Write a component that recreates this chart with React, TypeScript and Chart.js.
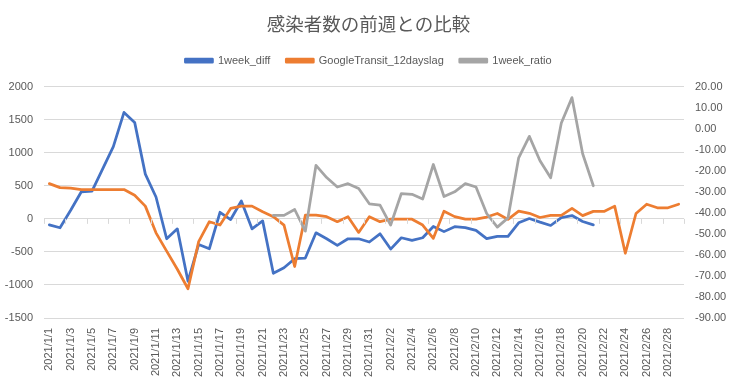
import React, { useEffect, useRef } from 'react';
import { Chart, registerables } from 'chart.js';

Chart.register(...registerables);

const categories = [
  '2021/1/1', '2021/1/2', '2021/1/3', '2021/1/4', '2021/1/5', '2021/1/6', '2021/1/7', '2021/1/8', '2021/1/9', '2021/1/10',
  '2021/1/11', '2021/1/12', '2021/1/13', '2021/1/14', '2021/1/15', '2021/1/16', '2021/1/17', '2021/1/18', '2021/1/19', '2021/1/20',
  '2021/1/21', '2021/1/22', '2021/1/23', '2021/1/24', '2021/1/25', '2021/1/26', '2021/1/27', '2021/1/28', '2021/1/29', '2021/1/30',
  '2021/1/31', '2021/2/1', '2021/2/2', '2021/2/3', '2021/2/4', '2021/2/5', '2021/2/6', '2021/2/7', '2021/2/8', '2021/2/9',
  '2021/2/10', '2021/2/11', '2021/2/12', '2021/2/13', '2021/2/14', '2021/2/15', '2021/2/16', '2021/2/17', '2021/2/18', '2021/2/19',
  '2021/2/20', '2021/2/21', '2021/2/22', '2021/2/23', '2021/2/24', '2021/2/25', '2021/2/26', '2021/2/27', '2021/2/28', '2021/3/1',
];

const weekDiff: (number | null)[] = [
  -90, -135, 130, 410, 420, 757, 1093, 1611, 1460, 677,
  331, -301, -151, -944, -387, -452, 100, -10, 271, -151,
  -30, -824, -740, -603, -593, -211, -301, -400, -301, -301,
  -350, -226, -457, -286, -325, -286, -115, -193, -118, -133,
  -173, -299, -266, -266, -60, 5, -50, -100, 20, 50,
  -40, -90, null, null, null, null, null, null, null, null,
];

const googleTransit: (number | null)[] = [
  -26.1, -28.0, -28.2, -28.9, -28.9, -28.9, -28.9, -28.9, -31.6, -36.8,
  -49.5, -58.2, -66.8, -76.1, -53.7, -44.2, -45.8, -37.9, -36.8, -36.8,
  -39.5, -41.8, -45.8, -65.5, -41.1, -41.1, -41.8, -44.2, -41.8, -49.3,
  -41.8, -44.2, -43.0, -43.0, -43.0, -45.8, -52.1, -39.2, -41.8, -43.0,
  -43.0, -42.0, -40.3, -43.1, -39.2, -40.2, -42.2, -41.2, -41.2, -37.9,
  -41.3, -39.3, -39.3, -36.8, -59.2, -40.3, -35.9, -37.6, -37.6, -35.9,
];

const weekRatio: (number | null)[] = [
  null, null, null, null, null, null, null, null, null, null,
  null, null, null, null, null, null, null, null, null, null,
  null, -41.2, -41.2, -38.4, -48.7, -17.4, -23.2, -27.7, -26.1, -28.4,
  -35.7, -36.3, -45.8, -30.8, -31.2, -33.4, -17.0, -32.2, -30.0, -26.1,
  -27.7, -40.3, -46.8, -42.4, -13.8, -3.6, -15.2, -23.3, 2.7, 14.8,
  -11.9, -27.1, null, null, null, null, null, null, null, null,
];

const leftMin = -1500;
const leftMax = 2000;
const leftStep = 500;
const rightMin = -90;
const rightMax = 20;
const rightStep = 10;

const TEXT = '#595959';
const GRID = '#d9d9d9';
const FONT = "'Liberation Sans', Arial, sans-serif";

const zeroTicksPlugin = {
  id: 'zeroTicks',
  afterDatasetsDraw(chart: any) {
    const { ctx, chartArea, scales } = chart;
    const y0 = scales.y.getPixelForValue(0);
    const n = categories.length;
    const w = chartArea.width / n;
    ctx.save();
    ctx.strokeStyle = GRID;
    ctx.lineWidth = 1;
    ctx.beginPath();
    for (let i = 0; i <= n; i += 2) {
      const x = Math.round(chartArea.left + i * w) + 0.5;
      ctx.moveTo(x, y0);
      ctx.lineTo(x, y0 + 5);
    }
    ctx.stroke();
    ctx.restore();
  },
};

export default function App() {
  const ref = useRef<HTMLCanvasElement | null>(null);

  useEffect(() => {
    const canvas = ref.current;
    if (!canvas) return;
    const line = (label: string, data: (number | null)[], color: string, axis: string, order: number) => ({
      label,
      data,
      borderColor: color,
      backgroundColor: color,
      borderWidth: 2.75,
      pointRadius: 0,
      pointHoverRadius: 0,
      tension: 0,
      spanGaps: false,
      yAxisID: axis,
      borderJoinStyle: 'round' as const,
      borderCapStyle: 'round' as const,
      order,
    });
    const chart = new Chart(canvas, {
      type: 'line',
      data: {
        labels: categories,
        datasets: [
          line('1week_diff', weekDiff, '#4472C4', 'y', 3),
          line('GoogleTransit_12dayslag', googleTransit, '#ED7D31', 'y1', 2),
          line('1week_ratio', weekRatio, '#A5A5A5', 'y1', 1),
        ],
      },
      options: {
        responsive: false,
        animation: false,
        layout: { padding: 0 },
        plugins: {
          tooltip: { enabled: false },
          title: {
            display: true,
            text: '感染者数の前週との比較',
            color: TEXT,
            font: { family: "'Noto Sans CJK JP', sans-serif", size: 18.5, weight: 'normal' },
            padding: { top: 13, bottom: 4 },
          },
          subtitle: {
            display: true,
            text: ' ',
            position: 'top',
            weight: 500,
            color: 'rgba(0,0,0,0)',
            font: { size: 1 },
            padding: { top: 0, bottom: 9.3 },
          },
          legend: {
            display: true,
            position: 'top',
            labels: {
              color: TEXT,
              font: { family: FONT, size: 11 },
              boxWidth: 27,
              boxHeight: 3,
              padding: 16,
              sort: (a: any, b: any) => a.datasetIndex - b.datasetIndex,
            },
          },
        },
        scales: {
          x: {
            type: 'category',
            offset: true,
            grid: { display: false },
            border: { display: false },
            ticks: {
              color: TEXT,
              font: { family: FONT, size: 11 },
              autoSkip: false,
              maxRotation: 90,
              minRotation: 90,
              padding: 2,
              callback: (_v: any, i: number) => (i % 2 === 0 ? categories[i] : ''),
            },
            afterFit: (s: any) => { s.height = 69; },
          },
          y: {
            position: 'left',
            min: leftMin,
            max: leftMax,
            grid: { color: GRID, lineWidth: 1, drawTicks: false },
            border: { display: false },
            ticks: {
              stepSize: leftStep,
              color: TEXT,
              font: { family: FONT, size: 11 },
              padding: 11,
              callback: (v: any) => String(v),
            },
            afterFit: (s: any) => { s.width = 44; },
          },
          y1: {
            position: 'right',
            min: rightMin,
            max: rightMax,
            grid: { display: false, drawTicks: false },
            border: { display: false },
            ticks: {
              stepSize: rightStep,
              color: TEXT,
              font: { family: FONT, size: 11 },
              padding: 11,
              callback: (v: any) => Number(v).toFixed(2),
            },
            afterFit: (s: any) => { s.width = 53; },
          },
        },
      },
      plugins: [zeroTicksPlugin],
    });
    return () => chart.destroy();
  }, []);

  return (
    <div style={{ position: 'absolute', left: 0, top: 0, width: 737, height: 387, background: '#fff' }}>
      <canvas ref={ref} width={737} height={387} style={{ width: 737, height: 387, display: 'block' }} />
    </div>
  );
}
